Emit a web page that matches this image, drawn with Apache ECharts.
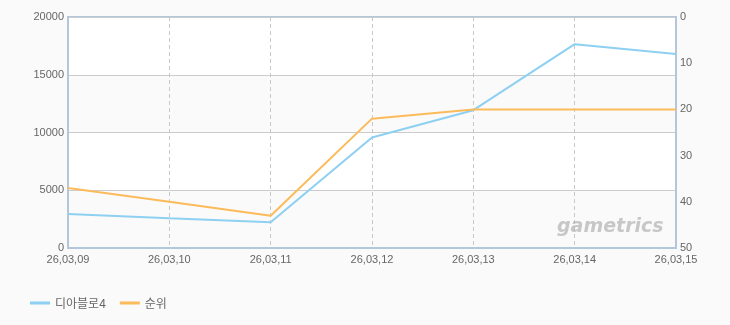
<!DOCTYPE html>
<html><head><meta charset="utf-8">
<script src="https://cdn.jsdelivr.net/npm/echarts@6/dist/echarts.min.js"></script>
<style>html,body{margin:0;padding:0;background:#fafafa;}#c{width:730px;height:325px;}</style>
</head><body><div id="c"></div>
<script>
const categories = ['26,03,09','26,03,10','26,03,11','26,03,12','26,03,13','26,03,14','26,03,15'];
const seriesNames = ['디아블로4','순위'];
const players = [2950, 2580, 2230, 9560, 11930, 17650, 16800];
const rank = [37, 40, 43, 22, 20, 20, 20];
const leftTicks = [0, 20000, 5000];
const rightTicks = [0, 50, 10];

const chart = echarts.init(document.getElementById('c'), null, {renderer:'canvas'});
const font = '"Liberation Sans", Arial, sans-serif';
chart.setOption({
  backgroundColor: '#fafafa',
  animation: false,
  grid: {left: 68, right: 54, top: 17, bottom: 77, show: true, backgroundColor: '#ffffff', borderColor: '#b4c6dc', borderWidth: 2},
  legend: {
    left: 25, top: 292, itemWidth: 20, itemHeight: 3, itemGap: 14,
    icon: 'rect',
    textStyle: {color: '#666', fontSize: 12, fontFamily: '"Noto Sans CJK KR", sans-serif'},
    data: seriesNames
  },
  xAxis: {
    type: 'category', data: categories, boundaryGap: false,
    axisLine: {show: true, lineStyle: {color: '#b4c6dc', width: 2}},
    axisTick: {show: false},
    axisLabel: {color: '#666', fontSize: 11, fontFamily: font, margin: 6},
    splitLine: {show: true, lineStyle: {color: '#c8c8c8', type: [4, 3], width: 1}}
  },
  yAxis: [{
    type: 'value', min: leftTicks[0], max: leftTicks[1], interval: leftTicks[2],
    axisLine: {show: true, lineStyle: {color: '#b4c6dc', width: 2}},
    axisTick: {show: false},
    axisLabel: {color: '#666', fontSize: 11, fontFamily: font, margin: 4, formatter: v => String(v)},
    splitLine: {show: true, lineStyle: {color: '#cccccc', width: 1}},
    splitArea: {show: true, areaStyle: {color: ['#fafafa', '#ffffff']}}
  }, {
    type: 'value', min: rightTicks[0], max: rightTicks[1], interval: rightTicks[2], inverse: true,
    axisLine: {show: true, lineStyle: {color: '#b4c6dc', width: 2}},
    axisTick: {show: false},
    axisLabel: {color: '#666', fontSize: 11, fontFamily: font, margin: 4, formatter: v => String(v)},
    splitLine: {show: false}
  }],
  series: [{
    name: seriesNames[0], type: 'line', yAxisIndex: 0, data: players,
    symbol: 'none', lineStyle: {color: '#8dd0f1', width: 2}, itemStyle: {color: '#8dd0f1'}
  }, {
    name: seriesNames[1], type: 'line', yAxisIndex: 1, data: rank,
    symbol: 'none', lineStyle: {color: '#fcbb5a', width: 2}, itemStyle: {color: '#fcbb5a'}
  }],
  graphic: [{
    type: 'text', x: 557, y: 218, z: 100, silent: true,
    style: {text: 'gametrics', fill: 'rgba(165,165,165,0.6)', fontSize: 19, fontWeight: 'bold', fontStyle: 'italic', fontFamily: '"DejaVu Sans", sans-serif'}
  }]
});
</script></body></html>
